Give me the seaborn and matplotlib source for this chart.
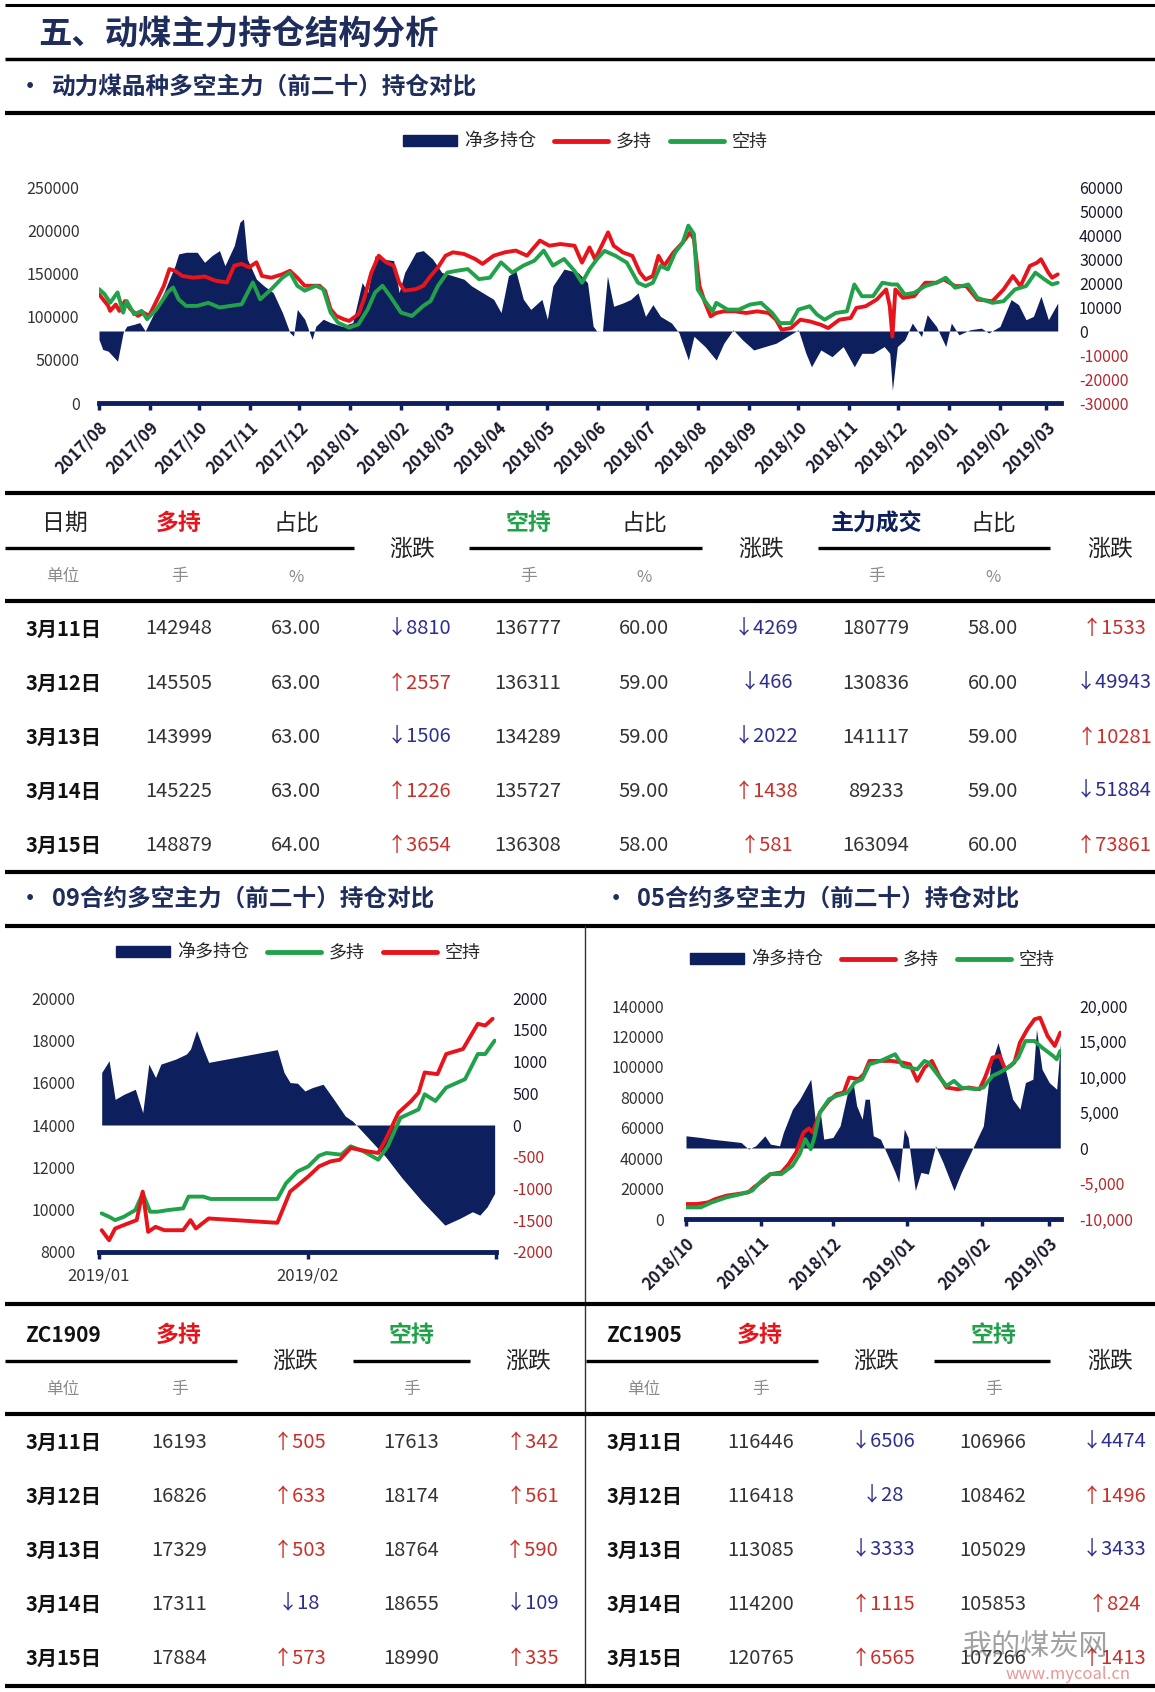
import numpy as np
import pandas as pd
import seaborn as sns
import matplotlib.pyplot as plt
from matplotlib.lines import Line2D
from matplotlib.patches import Patch

# ---- chart 1: 动力煤品种 (days since 2017-08-01) ----
c1_long_days = [0, 5.6, 6.8, 10.2, 12.4, 15.8, 19.2, 23.7, 27.1, 30.5, 35, 39.5, 42.9, 46.3, 50.8, 57.6, 64.3,
                71.1, 77.9, 82.4, 86.9, 91.4, 95.9, 99.3, 105, 111.7, 116.3, 120.8, 125.3, 129.8, 134.3, 137.7,
                141.1, 144.5, 149, 152.4, 158, 161.4, 165.9, 170.4, 174.9, 179.5, 182.8, 186.2, 193, 197.5, 202,
                206.5, 211.1, 215.6, 222.3, 229.1, 233.6, 240.4, 247.2, 253.9, 260.7, 268.6, 274.3, 281,
                289.7, 294.2, 298.8, 302.2, 306.7, 310.1, 313.5, 319.2, 324.9, 329.5, 332.9, 337.4, 340.8, 344.2,
                349.9, 355.6, 360.1, 362.4, 365.8, 369.2, 372.6, 376, 380.6, 387.4, 394.2, 401, 407.9, 412.4,
                415.8, 421.5, 427.2, 432.9, 439.7, 444.2, 451, 457.9, 461.3, 467, 473.8, 479.5, 481.7, 483.3,
                485.1, 489.7, 496.5, 503.3, 510.1, 514.7, 521.5, 528.3, 535.1, 544.2, 551, 556.7, 561.3, 567,
                571.5, 573.8, 578.3, 580.6, 584]
c1_long = [126000, 112400, 106600, 114000, 106600, 118000, 108500, 100800, 104600, 100800, 118000, 135700, 155000,
           153000, 147000, 145000, 146500, 141500, 139500, 159000, 161000, 157000, 162800, 147000, 145000, 149000,
           153000, 145000, 135700, 135700, 135700, 130000, 108500, 100800, 97000, 95000, 102700, 120000, 151000,
           170500, 162800, 159000, 139500, 130000, 131800, 135700, 147000, 157000, 170500, 174400, 172500, 166700,
           161000, 170500, 174400, 176400, 170500, 188000, 182000, 184000,
           182000, 162500, 180000, 166400, 184000, 197500, 182000, 174200, 170300, 150900, 143000, 147000, 170300,
           158600, 174200, 185800, 197500, 189700, 135300, 115900, 100300, 104200, 106100, 106100, 104200, 106100,
           104200, 96400, 84800, 86700, 96400, 94500, 90600, 86700, 96400, 98400, 110000, 112000, 119800, 131400,
           112000, 77000, 131400, 121700, 123600, 139200, 139200, 143000, 135300, 135300, 119800, 117800, 131400,
           147000, 135300, 158600, 162500, 166400, 150900, 145000, 148900]
c1_short_days = [0, 3.4, 6.8, 11.3, 14.7, 16.9, 21.4, 26, 29.3, 35, 41.8, 45.1, 48.5, 53, 59.8, 66.6, 73.4, 80.1,
                 86.9, 93.7, 98.2, 105, 111.7, 116.3, 120.8, 125.3, 132.1, 136.6, 141.1, 145.6, 152.4, 158, 163.7,
                 168.2, 172.7, 177.2, 184, 190.7, 197.5, 202, 206.5, 212.2, 217.8, 224.6, 231.4, 238.1, 244.9,
                 251.7, 258.5, 265.2, 270.9, 276.5, 283.3,
                 289.7, 294.2, 298.8, 303.3, 307.9, 314.7, 321.5, 328.3, 332.9, 337.4, 342, 346.5, 351, 355.6, 359,
                 362.4, 364.7, 369.2, 373.8, 376, 382.9, 389.7, 396.5, 403.3, 410.1, 414.7, 421.5, 426, 432.9,
                 437.4, 442, 448.8, 455.6, 460.1, 464.7, 471.5, 477.2, 482.9, 486.3, 490.8, 496.5, 503.3, 510.1,
                 515.8, 521.5, 529.5, 535.1, 544.2, 551, 557.9, 564.7, 570.4, 576, 580.6, 584]
c1_short = [131800, 126000, 116000, 128000, 104600, 118000, 102700, 106600, 97000, 108500, 128000, 133700, 120000,
            112400, 112400, 116000, 110500, 112400, 114300, 139500, 120000, 131800, 145000, 151000, 135700, 130000,
            135700, 131800, 104600, 93000, 87200, 91000, 108500, 128000, 135700, 124000, 104600, 100800, 112400,
            118000, 135700, 151000, 153000, 155000, 143400, 145000, 162800, 151000, 159000, 164700, 176400, 159000,
            166700,
            152800, 139200, 154700, 166400, 176100, 170300, 162500, 139200, 135300, 139200, 158600, 154700, 174200,
            185800, 205300, 195600, 131400, 117800, 106100, 115900, 108100, 108100, 113900, 115900, 104200, 92500,
            92500, 108100, 112000, 102300, 96400, 104200, 106100, 137200, 123600, 123600, 139200, 137200, 137200,
            125600, 127500, 135300, 139200, 145000, 133400, 137200, 121700, 115900, 117800, 131400, 135300, 150900,
            143000, 137200, 139200]
c1_net_days = [0, 2.3, 5.6, 11.3, 14.7, 16.9, 21.4, 24.8, 28.2, 32.7, 39.5, 46.3, 48.5, 53, 59.8, 64.3, 68.8, 73.4,
               76.7, 82.4, 85.8, 88, 90.3, 95.9, 100.5, 106.1, 111.7, 116.3, 118.5, 120.8, 125.3, 129.8, 132.1,
               136.6, 141.1, 147.9, 154.6, 160.3, 163.7, 168.2, 172.7, 179.5, 182.8, 186.2, 193, 197.5, 203.2,
               208.8, 215.6, 222.3, 226.9, 233.6, 240.4, 244.9, 249.4, 253.9, 258.5, 263, 269.8, 273.1, 276.5, 283.3,
               292, 297.6, 301, 303.3, 306.7, 309.7, 313.5, 319.2, 323.8, 328.3, 332.9, 337.4, 342, 348.8, 353.3,
               359, 362.4, 369.2, 376, 380.6, 386.3, 392, 398.8, 405.6, 412.4, 419.2, 426, 430.6, 434, 439.7, 446.5,
               453.3, 460.1, 464.7, 471.5, 478.3, 481.7, 483.3, 486.3, 490.8, 495.4, 501, 504.5, 510.1, 515.8,
               519.2, 523.8, 530.6, 537.4, 542, 548.8, 555.6, 560.1, 564.7, 569.2, 573.8, 578.3, 582.9, 584]
c1_net = [-3500, -7700, -8400, -12600, -700, 2000, 2800, 3500, 0, 6300, 16000, 27200, 32100, 32800, 32800, 28600,
          31400, 33500, 27200, 35600, 45300, 46700, 30000, 21600, 18800, 16000, 7700, -700, -2100, 9000, 4900, -3500,
          2000, 4900, 3500, 2000, 3500, 20200, 16000, 31400, 30000, 29300, 16000, 24400, 32800, 33500, 30000, 24400,
          23000, 21600, 18800, 16000, 13200, 7700, 23000, 25100, 13200, 9000, 13200, 4900, 18800, 25800,
          24300, 20100, 2000, -100, 0, 22900, 10300, 11700, 13100, 15900, 6100, 11000, 6100, 3300, -800, -12100,
          -2200, -6500, -12100, -5100, 500, -3700, -7900, -6500, -5100, -2300, 500, -9300, -14900, -7900, -10700,
          -6500, -14900, -9300, -9300, -6500, -9300, -24700, -6500, -3700, 3300, -2300, 6800, 1900, -6500, 3300,
          -1600, 500, 1200, -800, 1900, 13100, 11000, 4700, 6100, 14500, 4700, 10300, 11700]

# ---- chart 09 (days since 2019-01-01) ----
c09_net_days = [0.4, 1.5, 2.4, 3.7, 5.4, 6.5, 7.4, 8.4, 9.2, 11.4, 13, 13.6, 14.5, 15.5, 16.3, 26.5, 27.5, 28.4,
                29.5, 30.6, 31.7, 33.3, 34.9, 36.6, 37.7, 42.6, 45, 48, 51.4, 53.6, 55.5, 56.6, 57.7, 58.8]
c09_net = [827, 1012, 404, 483, 563, 193, 959, 748, 959, 1038, 1118, 1197, 1488, 1197, 986, 1187, 827, 668, 658,
           536, 589, 642, 404, 140, 61, -500, -830, -1200, -1577, -1472, -1366, -1419, -1287, -1075]
c09_long_days = [0.4, 1.5, 2.4, 3.7, 5.4, 6.5, 7.6, 8.7, 10.3, 12.5, 13.3, 15.5, 16.6, 26.5, 27.8, 29.5, 31.1,
                 32.7, 33.8, 36, 37.4, 39.3, 41.5, 42.9, 44.8, 47.5, 48.4, 50, 51.6, 54.4, 56.3, 57.4, 58.8]
c09_long = [9823, 9665, 9506, 9665, 9982, 10774, 9902, 9902, 9982, 10061, 10616, 10616, 10505, 10505, 11250, 11805,
            12043, 12550, 12677, 12597, 12994, 12756, 12360, 12994, 14341, 14737, 15451, 15134, 15768, 16164, 17353,
            17353, 17987]
c09_short_days = [0.4, 1.5, 2.4, 4.3, 5.6, 6.5, 7.3, 8.4, 9.7, 12.5, 13.6, 14.4, 16.3, 26.5, 28.4, 31.1, 32.7,
                  34.4, 35.8, 37.4, 39.9, 41.5, 42.6, 44.5, 46.4, 47.5, 48.4, 50.3, 51.6, 54.1, 56.3, 57.4, 58.5]
c09_short = [9030, 8555, 9110, 9348, 9506, 10853, 8951, 9189, 9030, 9030, 9506, 9110, 9585, 9379, 10853, 11567,
             12043, 12280, 12360, 12914, 12756, 12677, 13311, 14579, 15134, 15530, 16481, 16402, 17353, 17591, 18780,
             18701, 19018]

# ---- chart 05 (days since 2018-10-01) ----
c05_long_days = [0, 4.6, 9.2, 12.2, 16.8, 21.4, 26, 28.2, 32.1, 35.1, 39.7, 42.7, 45.8, 48.9, 51.1, 52.7, 55.7,
                 59.5, 62.6, 65.6, 67.9, 71.8, 74, 76.3, 80.9, 85.5, 90.1, 93.1, 96.2, 99.2, 102.3, 105.3, 108.4,
                 113, 117.6, 122.1, 124.4, 127.5, 130.5, 132.8, 136.6, 138.9, 142, 145, 147.3, 150.4, 153.4, 155.7]
c05_long = [9840, 9840, 10940, 13100, 15300, 16400, 17500, 20800, 25200, 29500, 30600, 36100, 43750, 56900, 59500,
            56900, 70000, 77700, 82000, 83100, 93000, 91900, 95200, 103900, 103900, 103900, 102800, 101700, 90800,
            99500, 103900, 94100, 86400, 85300, 86400, 85300, 93000, 106100, 107200, 98400, 102800, 115900, 124700,
            131300, 132300, 120300, 113750, 122500]
c05_short_days = [0, 6.1, 10.7, 16.8, 22.9, 27.5, 32.1, 35.1, 39.7, 44.3, 47.3, 49.6, 51.9, 53.4, 55.7, 59.5, 62.6,
                  67.2, 70.2, 73.3, 76.3, 80.9, 87, 90.1, 93.1, 96.2, 99.2, 100.8, 106.1, 108.4, 111.5, 114.5, 120.6,
                  123.7, 127.5, 130.5, 135.1, 138.2, 141.2, 145, 148.1, 152.7, 154.2, 155.7]
c05_short = [7650, 7650, 10900, 14200, 16400, 18600, 26250, 29500, 29500, 35000, 42700, 52500, 45900, 53600, 70000,
             78750, 80900, 83100, 89700, 91900, 101700, 103900, 108300, 100600, 99500, 98400, 103900, 102800, 91900,
             87500, 90800, 86400, 85300, 86400, 94100, 96250, 100600, 106100, 117000, 117000, 112700, 107200, 105000,
             110500]
c05_net_days = [0, 6.1, 10.7, 16.8, 22.9, 26, 29, 32.8, 35.1, 38.9, 40.5, 44.3, 47.3, 51.9, 54.2, 55.7, 57.3, 61.1,
                64.1, 67.2, 69.5, 71, 73.3, 74.5, 76.3, 77.9, 80.9, 84, 87, 88.5, 90.8, 92.4, 95.4, 97.7, 100.8,
                103.8, 106.9, 111.5, 114.5, 119.1, 123.7, 126.7, 129.8, 132.8, 135.9, 138.9, 141.2, 144.3, 145.8,
                148.1, 151.1, 154.2, 155, 155.7]
c05_net = [1719, 1484, 1250, 1016, 781, -156, 313, 1719, 547, 313, 2188, 5470, 6875, 9690, 2656, 5470, 1250, 1484,
           3125, 7810, 9220, 5940, 4060, 6875, 6875, 1720, 1250, -1100, -3440, -4840, 2656, 1484, -6000, -3440, -3670,
           310, -2030, -6000, -3440, -160, 3125, 11560, 14840, 11100, 6875, 5470, 9220, 9690, 16720, 11100, 9220,
           8280, 11560, 14840]

# ---- tables ----
row_dates = ["3月11日", "3月12日", "3月13日", "3月14日", "3月15日"]
all_long = [142948, 145505, 143999, 145225, 148879]
all_long_pct = ["63.00", "63.00", "63.00", "63.00", "64.00"]
all_long_chg = [-8810, 2557, -1506, 1226, 3654]
all_short = [136777, 136311, 134289, 135727, 136308]
all_short_pct = ["60.00", "59.00", "59.00", "59.00", "58.00"]
all_short_chg = [-4269, -466, -2022, 1438, 581]
all_vol = [180779, 130836, 141117, 89233, 163094]
all_vol_pct = ["58.00", "60.00", "59.00", "59.00", "60.00"]
all_vol_chg = [1533, -49943, 10281, -51884, 73861]
zc09_long = [16193, 16826, 17329, 17311, 17884]
zc09_long_chg = [505, 633, 503, -18, 573]
zc09_short = [17613, 18174, 18764, 18655, 18990]
zc09_short_chg = [342, 561, 590, -109, 335]
zc05_long = [116446, 116418, 113085, 114200, 120765]
zc05_long_chg = [-6506, -28, -3333, 1115, 6565]
zc05_short = [106966, 108462, 105029, 105853, 107266]
zc05_short_chg = [-4474, 1496, -3433, 824, 1413]

NAVY = "#0d1f5c"
RED = "#e8141c"
GREEN = "#21a24a"
NEG = "#b3282d"
UP = "#c9302c"
DOWN = "#2e2e8f"
TXT = "#222222"

sns.set_theme(style="white")
plt.rcParams["font.family"] = ["Noto Sans CJK SC", "DejaVu Sans"]
plt.rcParams["axes.unicode_minus"] = False

W, H = 1155, 1692
fig = plt.figure(figsize=(W / 100, H / 100), dpi=100)
fig.patch.set_facecolor("white")


def txt(x, y, s, **kw):
    kw.setdefault("ha", "center")
    kw.setdefault("va", "center")
    fig.text(x / W, 1 - y / H, s, **kw)


def hline(x0, x1, y, lw=2.8, color="black"):
    fig.add_artist(Line2D([x0 / W, x1 / W], [1 - y / H, 1 - y / H], color=color, lw=lw,
                          transform=fig.transFigure, solid_capstyle="butt"))


def to_dates(start, days):
    return pd.Timestamp(start) + pd.to_timedelta(days, unit="D")


def draw_chart(box, start, end_days, lines, net, yticks, y2ticks, y2labels, xticks, xlabels, rot, pads):
    x0, y0, x1, y1 = box
    ax = fig.add_axes([x0 / W, 1 - y1 / H, (x1 - x0) / W, (y1 - y0) / H])
    ax2 = ax.twinx()
    ax2.fill_between(to_dates(start, net[0]), 0, net[1], color=NAVY, lw=0)
    for days, vals, col in lines:
        sns.lineplot(x=to_dates(start, days), y=vals, ax=ax, color=col, lw=2.8, errorbar=None)
    ax.set_zorder(ax2.get_zorder() + 1)
    ax.patch.set_visible(False)
    ax.set_xlim(pd.Timestamp(start), pd.Timestamp(start) + pd.Timedelta(days=end_days))
    ax.set_ylim(yticks[0], yticks[-1])
    ax2.set_ylim(y2ticks[0], y2ticks[-1])
    ax.set_xlabel("")
    ax.set_ylabel("")
    for s in ["top", "left", "right"]:
        ax.spines[s].set_visible(False)
    for s in ax2.spines.values():
        s.set_visible(False)
    ax.spines["bottom"].set_color(NAVY)
    ax.spines["bottom"].set_linewidth(3.5)
    ax.set_yticks(yticks)
    ax.set_yticklabels([str(v) for v in yticks])
    ax2.set_yticks(y2ticks)
    ax2.set_yticklabels(y2labels)
    for v, t in zip(y2ticks, ax2.get_yticklabels()):
        t.set_color(NEG if v < 0 else "#1a1a2e")
    ax.set_xticks(pd.to_datetime(xticks))
    if rot:
        ax.set_xticklabels(xlabels, rotation=rot, ha="right", rotation_mode="anchor", fontweight="bold",
                           color="#1a1a2e", fontsize=12)
    else:
        ax.set_xticklabels(xlabels, color="#333333", fontsize=12)
    ax.tick_params(axis="x", direction="out", length=5, width=2.5, color=NAVY, pad=6, bottom=True)
    ax.tick_params(axis="y", length=0, pad=pads[0], labelsize=11.5, labelcolor="#333333")
    ax2.tick_params(axis="y", length=0, pad=pads[1], labelsize=11.5)
    return ax, ax2


def legend(cx, cy, items):
    handles = []
    for kind, col, lab in items:
        if kind == "bar":
            handles.append(Patch(color=col, label=lab))
        else:
            handles.append(Line2D([], [], color=col, lw=3.5, label=lab))
    fig.legend(handles=handles, loc="center", bbox_to_anchor=(cx / W, 1 - cy / H), ncol=3, frameon=False,
               fontsize=13, handlelength=3.0, handleheight=0.6, columnspacing=1.0, handletextpad=0.4)


def chg(x, y, v):
    s = ("↑" if v > 0 else "↓") + str(abs(v))
    txt(x, y, s, color=UP if v > 0 else DOWN, fontsize=14.5)


# ---- headings and rules ----
hline(5, W, 5, lw=2.2)
txt(38, 35, "五、动煤主力持仓结构分析", ha="left", fontsize=24, fontweight="bold", color="#1f2d5c")
hline(5, W, 59, lw=2.5)
txt(30, 87, "•", fontsize=16, fontweight="bold", color="#1f2d5c")
txt(52, 87, "动力煤品种多空主力（前二十）持仓对比", ha="left", fontsize=17, fontweight="bold", color="#1f2d5c")
hline(5, W, 113, lw=3)

# ---- chart 1 ----
draw_chart((99, 187, 1061, 403), "2017-08-01", 586,
           [(c1_long_days, c1_long, RED), (c1_short_days, c1_short, GREEN)],
           (c1_net_days, c1_net),
           [0, 50000, 100000, 150000, 200000, 250000],
           [-30000, -20000, -10000, 0, 10000, 20000, 30000, 40000, 50000, 60000],
           ["-30000", "-20000", "-10000", "0", "10000", "20000", "30000", "40000", "50000", "60000"],
           ["2017-08-01", "2017-09-01", "2017-10-01", "2017-11-01", "2017-12-01", "2018-01-01", "2018-02-01",
            "2018-03-01", "2018-04-01", "2018-05-01", "2018-06-01", "2018-07-01", "2018-08-01", "2018-09-01",
            "2018-10-01", "2018-11-01", "2018-12-01", "2019-01-01", "2019-02-01", "2019-03-01"],
           ["2017/08", "2017/09", "2017/10", "2017/11", "2017/12", "2018/01", "2018/02", "2018/03", "2018/04",
            "2018/05", "2018/06", "2018/07", "2018/08", "2018/09", "2018/10", "2018/11", "2018/12", "2019/01",
            "2019/02", "2019/03"],
           45, (14, 13))
legend(585, 142, [("bar", NAVY, "净多持仓"), ("line", RED, "多持"), ("line", GREEN, "空持")])
hline(5, W, 493, lw=3)

# ---- top table ----
hdr = dict(fontsize=16.5)
txt(65, 523, "日期", color=TXT, **hdr)
txt(179, 523, "多持", color=RED, fontweight="bold", **hdr)
txt(296, 523, "占比", color=TXT, **hdr)
txt(412, 549, "涨跌", color=TXT, **hdr)
txt(528, 523, "空持", color=GREEN, fontweight="bold", **hdr)
txt(644, 523, "占比", color=TXT, **hdr)
txt(761, 549, "涨跌", color=TXT, **hdr)
txt(876, 523, "主力成交", color=NAVY, fontweight="bold", **hdr)
txt(993, 523, "占比", color=TXT, **hdr)
txt(1110, 549, "涨跌", color=TXT, **hdr)
hline(5, 354, 548, lw=2.4)
hline(469, 702, 548, lw=2.4)
hline(818, 1050, 548, lw=2.4)
unit = dict(fontsize=12, color="#8a8a8a")
txt(63, 577, "单位", **unit)
for ux, us in zip([179, 296, 528, 644, 876, 993], ["手", "%", "手", "%", "手", "%"]):
    txt(ux, 577, us, **unit)
hline(5, W, 601, lw=3)
row_y = [629, 683, 737, 791, 845]
num = dict(fontsize=14.5, color="#333333")
for i, ry in enumerate(row_y):
    txt(63, ry, row_dates[i], fontsize=14.5, fontweight="bold", color="#111111")
    txt(179, ry, str(all_long[i]), **num)
    txt(296, ry, all_long_pct[i], **num)
    chg(419, ry, all_long_chg[i])
    txt(528, ry, str(all_short[i]), **num)
    txt(644, ry, all_short_pct[i], **num)
    chg(766, ry, all_short_chg[i])
    txt(876, ry, str(all_vol[i]), **num)
    txt(993, ry, all_vol_pct[i], **num)
    chg(1114, ry, all_vol_chg[i])
hline(5, W, 872, lw=3)

# ---- section titles ----
txt(30, 899, "•", fontsize=16, fontweight="bold", color="#1f2d5c")
txt(52, 899, "09合约多空主力（前二十）持仓对比", ha="left", fontsize=17, fontweight="bold", color="#1f2d5c")
txt(616, 899, "•", fontsize=16, fontweight="bold", color="#1f2d5c")
txt(637, 899, "05合约多空主力（前二十）持仓对比", ha="left", fontsize=17, fontweight="bold", color="#1f2d5c")
hline(5, W, 926, lw=3)
fig.add_artist(Line2D([585 / W, 585 / W], [1 - 926 / H, 1 - 1686 / H], color="#333333", lw=1,
                      transform=fig.transFigure))

# ---- chart 09 ----
draw_chart((99, 998, 496, 1252), "2019-01-01", 59,
           [(c09_long_days, c09_long, GREEN), (c09_short_days, c09_short, RED)],
           (c09_net_days, c09_net),
           [8000, 10000, 12000, 14000, 16000, 18000, 20000],
           [-2000, -1500, -1000, -500, 0, 500, 1000, 1500, 2000],
           ["-2000", "-1500", "-1000", "-500", "0", "500", "1000", "1500", "2000"],
           ["2019-01-01", "2019-02-01", "2019-03-01"], ["2019/01", "2019/02", ""], 0, (17, 12))
legend(298, 953, [("bar", NAVY, "净多持仓"), ("line", GREEN, "多持"), ("line", RED, "空持")])

# ---- chart 05 ----
draw_chart((686, 1006, 1061, 1219), "2018-10-01", 156,
           [(c05_long_days, c05_long, RED), (c05_short_days, c05_short, GREEN)],
           (c05_net_days, c05_net),
           [0, 20000, 40000, 60000, 80000, 100000, 120000, 140000],
           [-10000, -5000, 0, 5000, 10000, 15000, 20000],
           ["-10,000", "-5,000", "0", "5,000", "10,000", "15,000", "20,000"],
           ["2018-10-01", "2018-11-01", "2018-12-01", "2019-01-01", "2019-02-01", "2019-03-01"],
           ["2018/10", "2018/11", "2018/12", "2019/01", "2019/02", "2019/03"], 45, (16, 13))
legend(872, 960, [("bar", NAVY, "净多持仓"), ("line", RED, "多持"), ("line", GREEN, "空持")])
hline(5, W, 1304, lw=3)

# ---- bottom tables ----
for base, code in [(0, "ZC1909"), (581, "ZC1905")]:
    txt(63 + base, 1335, code, fontsize=15, fontweight="bold", color="#111111")
    txt(179 + base, 1335, "多持", color=RED, fontweight="bold", **hdr)
    txt(295 + base if base == 0 else 876, 1361, "涨跌", color=TXT, **hdr)
    txt(411 + base if base == 0 else 993, 1335, "空持", color=GREEN, fontweight="bold", **hdr)
    txt(528 + base if base == 0 else 1110, 1361, "涨跌", color=TXT, **hdr)
    txt(63 + base, 1389, "单位", **unit)
    txt(179 + base, 1389, "手", **unit)
    txt(411 + base if base == 0 else 993, 1389, "手", **unit)
hline(5, 237, 1361, lw=2.4)
hline(353, 470, 1361, lw=2.4)
hline(586, 818, 1361, lw=2.4)
hline(934, 1050, 1361, lw=2.4)
hline(5, W, 1414, lw=3)
row_y2 = [1442, 1496, 1550, 1604, 1658]
for i, ry in enumerate(row_y2):
    txt(63, ry, row_dates[i], fontsize=14.5, fontweight="bold", color="#111111")
    txt(179, ry, str(zc09_long[i]), **num)
    chg(299, ry, zc09_long_chg[i])
    txt(411, ry, str(zc09_short[i]), **num)
    chg(532, ry, zc09_short_chg[i])
    txt(644, ry, row_dates[i], fontsize=14.5, fontweight="bold", color="#111111")
    txt(761, ry, str(zc05_long[i]), **num)
    chg(883, ry, zc05_long_chg[i])
    txt(993, ry, str(zc05_short[i]), **num)
    chg(1114, ry, zc05_short_chg[i])
hline(5, W, 1686, lw=3)

# watermark
txt(1036, 1648, "我的煤炭网", fontsize=21, color="#555555", alpha=0.55)
txt(1068, 1674, "www.mycoal.cn", fontsize=12, color="#d9534f", alpha=0.6)

fig.savefig("out.png", dpi=100)
plt.close(fig)
